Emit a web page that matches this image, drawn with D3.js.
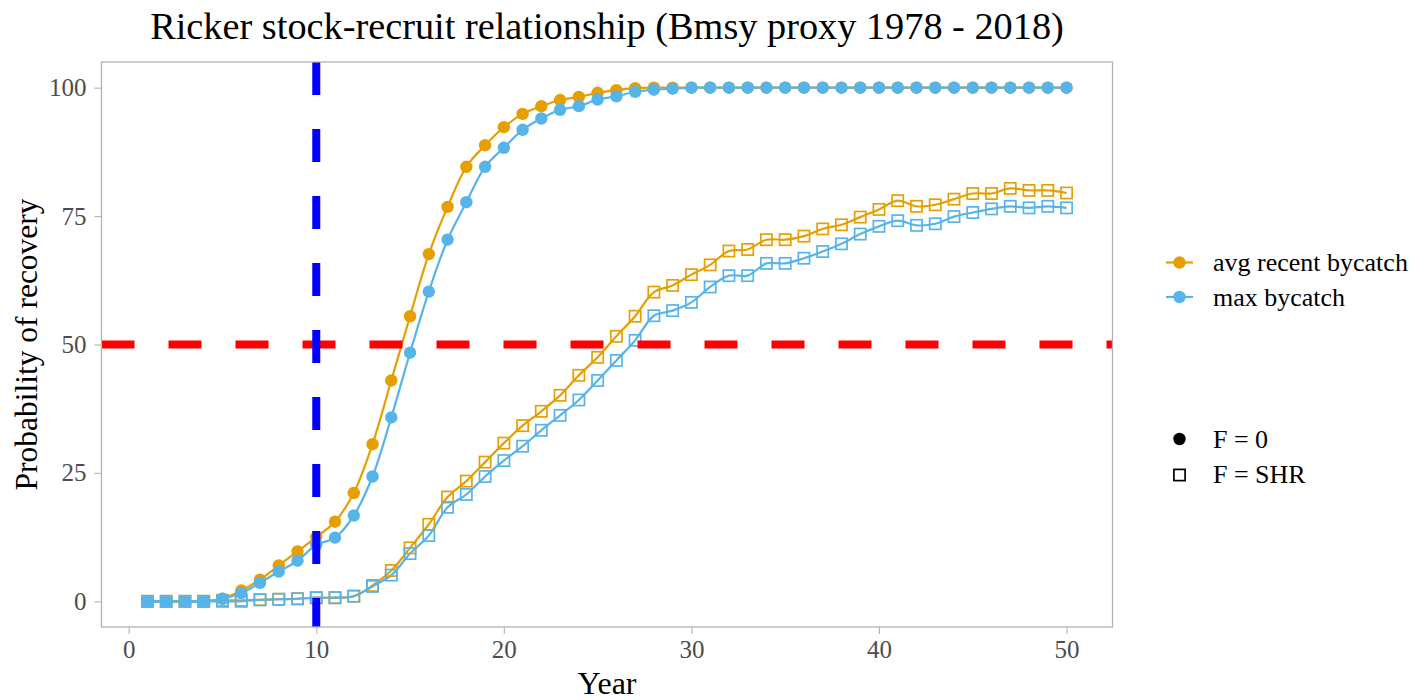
<!DOCTYPE html>
<html lang="en">
<head>
    <meta charset="UTF-8">
    <title>Ricker stock-recruit relationship</title>
    <script src="https://d3js.org/d3.v7.min.js"></script>
    <style>
        body { margin: 0; background: #fff; }
        text { font-family: "Liberation Serif", "Times New Roman", serif; }
    </style>
</head>
<body>
    <script>
        // data
        const years = [1,2,3,4,5,6,7,8,9,10,11,12,13,14,15,16,17,18,19,20,21,22,23,24,25,
                       26,27,28,29,30,31,32,33,34,35,36,37,38,39,40,41,42,43,44,45,46,47,48,49,50];
        const avgF0 = [0,0,0,0,0.5,2.1,4.2,7.0,9.7,12.5,15.5,21.1,30.6,43.0,55.5,67.6,76.8,84.6,88.8,92.3,94.9,96.4,97.6,98.2,99.0,
                       99.5,99.9,100,100,100,100,100,100,100,100,100,100,100,100,100,100,100,100,100,100,100,100,100,100,100];
        const maxF0 = [0,0,0,0,0.5,1.6,3.6,5.8,7.9,11.0,12.4,16.7,24.3,35.8,48.4,60.3,70.4,77.7,84.6,88.3,91.8,94.0,95.7,96.4,97.7,
                       98.3,99.2,99.6,99.8,100,100,100,100,100,100,100,100,100,100,100,100,100,100,100,100,100,100,100,100,100];
        const avgSHR = [0,0,0,0,0.2,0.2,0.3,0.4,0.5,0.7,0.7,1.0,3.1,6.0,10.4,15.0,20.3,23.4,27.1,30.8,34.2,37.0,40.1,44.0,47.5,
                        51.6,55.5,60.2,61.5,63.6,65.5,68.2,68.5,70.4,70.4,71.1,72.5,73.3,74.8,76.3,78.0,76.9,77.2,78.3,79.4,79.4,80.4,80.0,80.0,79.5];
        const maxSHR = [0,0,0,0,0,0,0.3,0.4,0.5,0.7,0.7,1.0,2.9,5.1,9.3,12.8,18.3,20.8,24.3,27.4,30.2,33.3,36.2,39.2,43.0,
                        46.9,50.8,55.6,56.6,58.2,61.2,63.4,63.4,65.8,65.8,66.8,68.1,69.6,71.5,73.0,74.1,73.2,73.5,74.9,75.7,76.4,76.9,76.6,76.9,76.6];
        const xTicks = [0, 10, 20, 30, 40, 50];
        const yTicks = [0, 25, 50, 75, 100];
        const colourNames = ["avg recent bycatch", "max bycatch"];
        const shapeNames = ["F = 0", "F = SHR"];
        const targetLevel = 50;
        const targetYear = 10;

        const width = 1414, height = 700;
        const panel = { left: 101.5, right: 1112.5, top: 62, bottom: 627 };
        const orange = "#E69F00", blue = "#56B4E9", grid = "#B3B3B3", tickText = "#4D4D4D";

        const series = [
            { name: colourNames[0], shape: "circle", colour: orange, values: avgF0 },
            { name: colourNames[0], shape: "square", colour: orange, values: avgSHR },
            { name: colourNames[1], shape: "circle", colour: blue, values: maxF0 },
            { name: colourNames[1], shape: "square", colour: blue, values: maxSHR }
        ];

        const svg = d3.select("body").append("svg")
            .attr("width", width)
            .attr("height", height);

        svg.append("rect").attr("width", width).attr("height", height).attr("fill", "#fff");

        const x = d3.scaleLinear().domain([-1.45, 52.45]).range([panel.left, panel.right]);
        const y = d3.scaleLinear().domain([-5, 105]).range([panel.bottom, panel.top]);

        // axes
        const xAxis = svg.append("g")
            .attr("transform", `translate(0,${panel.bottom})`)
            .call(d3.axisBottom(x).tickValues(xTicks).tickSize(7).tickPadding(6));
        const yAxis = svg.append("g")
            .attr("transform", `translate(${panel.left},0)`)
            .call(d3.axisLeft(y).tickValues(yTicks).tickSize(7).tickPadding(8));
        [xAxis, yAxis].forEach(g => {
            g.select(".domain").remove();
            g.selectAll(".tick line").attr("stroke", grid).attr("stroke-width", 1.1);
            g.selectAll(".tick text").attr("fill", tickText).attr("font-size", 25)
                .attr("font-family", "Liberation Serif");
        });

        const plot = svg.append("g");
        const line = d3.line()
            .x((d, i) => x(years[i]))
            .y(d => y(d))
            .curve(d3.curveCatmullRom.alpha(0.5));

        series.forEach(s => {
            plot.append("path")
                .datum(s.values)
                .attr("fill", "none")
                .attr("stroke", s.colour)
                .attr("stroke-width", 2.2)
                .attr("d", line);
        });

        series.forEach(s => {
            const g = plot.append("g");
            if (s.shape === "circle") {
                g.selectAll("circle").data(s.values).enter().append("circle")
                    .attr("cx", (d, i) => x(years[i]))
                    .attr("cy", d => y(d))
                    .attr("r", 6.2)
                    .attr("fill", s.colour);
            } else {
                g.selectAll("rect").data(s.values).enter().append("rect")
                    .attr("x", (d, i) => x(years[i]) - 5.6)
                    .attr("y", d => y(d) - 5.6)
                    .attr("width", 11.2)
                    .attr("height", 11.2)
                    .attr("fill", "none")
                    .attr("stroke", s.colour)
                    .attr("stroke-width", 1.7);
            }
        });

        // reference lines
        plot.append("line")
            .attr("x1", panel.left).attr("x2", panel.right)
            .attr("y1", y(targetLevel)).attr("y2", y(targetLevel))
            .attr("stroke", "#FF0000").attr("stroke-width", 8)
            .attr("stroke-dasharray", "33,34");
        plot.append("line")
            .attr("x1", x(targetYear)).attr("x2", x(targetYear))
            .attr("y1", panel.top).attr("y2", panel.bottom)
            .attr("stroke", "#0000FF").attr("stroke-width", 8)
            .attr("stroke-dasharray", "33,34");

        // panel border
        svg.append("rect")
            .attr("x", panel.left).attr("y", panel.top)
            .attr("width", panel.right - panel.left).attr("height", panel.bottom - panel.top)
            .attr("fill", "none").attr("stroke", grid).attr("stroke-width", 1.3);

        // titles
        svg.append("text")
            .attr("x", (panel.left + panel.right) / 2).attr("y", 39)
            .attr("text-anchor", "middle").attr("font-size", 38.3)
            .text("Ricker stock-recruit relationship (Bmsy proxy 1978 - 2018)");
        svg.append("text")
            .attr("x", (panel.left + panel.right) / 2).attr("y", 694)
            .attr("text-anchor", "middle").attr("font-size", 32)
            .text("Year");
        svg.append("text")
            .attr("transform", `translate(37,${(panel.top + panel.bottom) / 2}) rotate(-90)`)
            .attr("text-anchor", "middle").attr("font-size", 31.5)
            .text("Probability of recovery");

        // colour legend
        const legend = svg.append("g");
        [orange, blue].forEach((c, i) => {
            const ly = 262.5 + i * 34.5;
            legend.append("line")
                .attr("x1", 1166).attr("x2", 1193).attr("y1", ly).attr("y2", ly)
                .attr("stroke", c).attr("stroke-width", 2.2);
            legend.append("circle").attr("cx", 1179.5).attr("cy", ly).attr("r", 6.2).attr("fill", c);
            legend.append("text").attr("x", 1213).attr("y", ly + 8.5)
                .attr("font-size", 26).text(colourNames[i]);
        });

        // shape legend
        legend.append("circle").attr("cx", 1179.5).attr("cy", 439).attr("r", 6.2).attr("fill", "#000");
        legend.append("rect").attr("x", 1173.9).attr("y", 469.4).attr("width", 11.2).attr("height", 11.2)
            .attr("fill", "none").attr("stroke", "#000").attr("stroke-width", 1.7);
        shapeNames.forEach((n, i) => {
            legend.append("text").attr("x", 1213).attr("y", 447.5 + i * 35.5)
                .attr("font-size", 26).text(n);
        });
    </script>
</body>
</html>
